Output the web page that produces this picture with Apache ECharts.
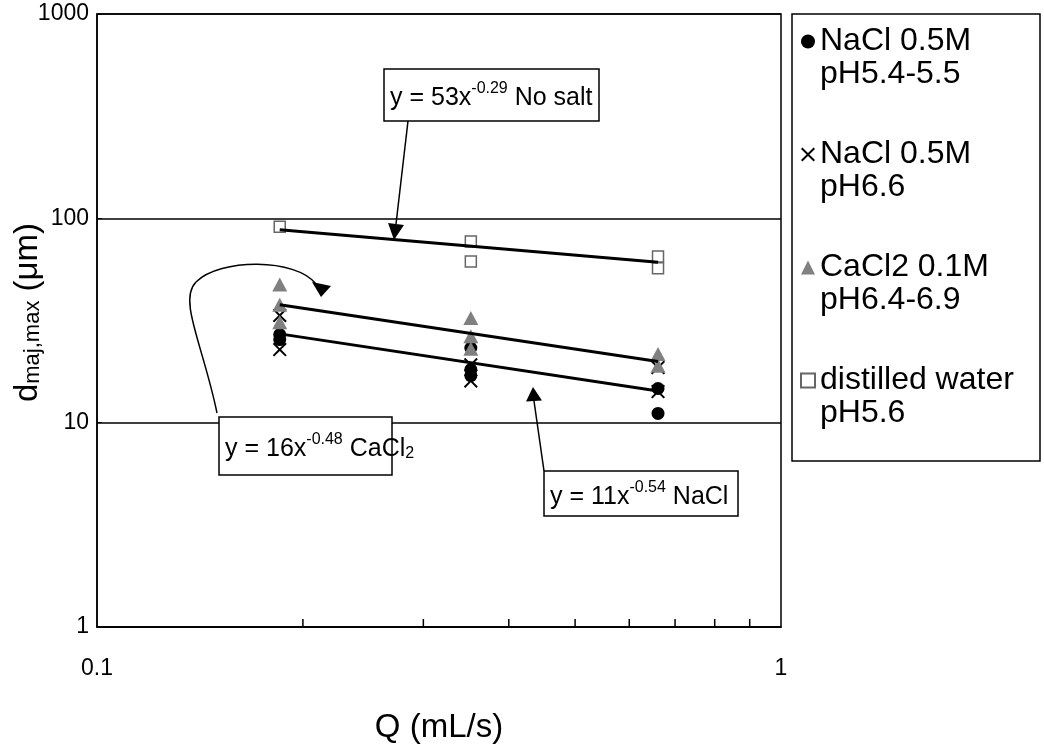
<!DOCTYPE html>
<html>
<head>
<meta charset="utf-8">
<title>dmaj,max vs Q</title>
<script src="https://cdn.jsdelivr.net/npm/echarts@6/dist/echarts.min.js"></script>
</head>
<body style="margin:0px;">
<div id="main" style="width:1044px;height:751px;"></div>
<script type="text/javascript">
// values: [Q (mL/s), dmaj,max (um)]
var naclLowPh = [[0.185,27],[0.185,25.5],[0.352,23.2],[0.352,18.2],[0.352,17],[0.661,14.7],[0.661,11.1]];
var naclPh66 = [[0.185,33.5],[0.185,22.8],[0.352,19.2],[0.352,16],[0.661,18.6],[0.661,14.2]];
var cacl2 = [[0.185,47.5],[0.185,37.8],[0.185,31],[0.352,32.5],[0.352,26.5],[0.352,23],[0.661,21.7],[0.661,19]];
var water = [[0.185,91],[0.352,77],[0.352,61.5],[0.661,65],[0.661,57]];

// trend line end points
var fitNoSalt = [[0.185,88],[0.661,61]];
var fitCaCl2 = [[0.185,37.8],[0.661,19.9]];
var fitNaCl = [[0.185,27.2],[0.661,14.3]];

var seriesNames = ['NaCl 0.5M\npH5.4-5.5', 'NaCl 0.5M\npH6.6', 'CaCl2 0.1M\npH6.4-6.9', 'distilled water\npH5.6'];
var xMinorTicks = [0.2,0.3,0.4,0.5,0.6,0.7,0.8,0.9];

var FONT = '"Liberation Sans", Arial, sans-serif';
var crossPath = 'path://M0,1L1,0L5,4L9,0L10,1L6,5L10,9L9,10L5,6L1,10L0,9L4,5Z';

var myChart = echarts.init(document.getElementById('main'));

function fitLine(data) {
    return {
        type: 'line', data: data, symbol: 'none', silent: true, z: 5,
        lineStyle: {color: '#000', width: 3}
    };
}

var txt = {fontFamily: FONT, fontSize: 25, lineHeight: 30, verticalAlign: 'bottom', color: '#000'};
var sup = {fontFamily: FONT, fontSize: 16, lineHeight: 16, verticalAlign: 'top', color: '#000'};
var sub = {fontFamily: FONT, fontSize: 16, lineHeight: 16, verticalAlign: 'bottom', color: '#000'};

function noteBox(x, y, w, h, text) {
    return [
        {type: 'rect', shape: {x: x, y: y, width: w, height: h}, z: 100,
         style: {fill: '#fff', stroke: '#000', lineWidth: 1.5}},
        {type: 'text', x: x + 6, y: y + h / 2 + 1, z: 101,
         style: {text: text, rich: {t: txt, sup: sup, sub: sub}, verticalAlign: 'middle'}}
    ];
}

function arrow(x1, y1, bx, by, tx, ty, half) {
    var dx = tx - bx, dy = ty - by, len = Math.sqrt(dx * dx + dy * dy);
    var px = -dy / len * half, py = dx / len * half;
    return [
        {type: 'line', shape: {x1: x1, y1: y1, x2: bx, y2: by}, z: 99,
         style: {stroke: '#000', lineWidth: 1.5}},
        {type: 'polygon', shape: {points: [[tx, ty], [bx + px, by + py], [bx - px, by - py]]}, z: 99,
         style: {fill: '#000'}}
    ];
}

var graphics = [].concat(
    [{type: 'rect', shape: {x: 792, y: 14, width: 248, height: 447},
      style: {fill: 'none', stroke: '#000', lineWidth: 1.5}}],
    arrow(408, 121, 396, 224, 394, 240, 8),
    arrow(544, 471, 534, 401, 533, 387, 8),
    [{type: 'bezierCurve', z: 99,
      shape: {x1: 217, y1: 413, cpx1: 203, cpy1: 345, cpx2: 178, cpy2: 300, x2: 196, y2: 282},
      style: {fill: 'none', stroke: '#000', lineWidth: 1.5}},
     {type: 'bezierCurve', z: 99,
      shape: {x1: 196, y1: 282, cpx1: 220, cpy1: 258, cpx2: 296, cpy2: 258, x2: 316, y2: 284},
      style: {fill: 'none', stroke: '#000', lineWidth: 1.5}},
     {type: 'polygon', z: 99, shape: {points: [[321, 297], [312, 282], [331, 286]]}, style: {fill: '#000'}}],
    noteBox(384, 69, 215, 52, '{t|y = 53x}{sup|-0.29}{t| No salt}'),
    noteBox(219, 417, 173, 58, '{t|y = 16x}{sup|-0.48}{t| CaCl}{sub|2}'),
    noteBox(544, 471, 194, 45, '{t|y = 11x}{sup|-0.54}{t| NaCl}')
);

myChart.setOption({
    animation: false,
    backgroundColor: '#fff',
    textStyle: {fontFamily: FONT},
    grid: {left: 97, top: 14, width: 684, height: 613, outerBoundsMode: 'none', containLabel: false,
           show: true, borderColor: '#000', borderWidth: 1.5, backgroundColor: '#fff'},
    legend: {
        orient: 'vertical', left: 800, top: -8, padding: 0,
        itemWidth: 14, itemHeight: 14, itemGap: 14,
        data: seriesNames,
        formatter: function (name) { return '\n' + name; },
        textStyle: {fontFamily: FONT, fontSize: 32, lineHeight: 33, color: '#000'}
    },
    xAxis: {
        type: 'log', logBase: 10, min: 0.1, max: 1,
        name: 'Q (mL/s)', nameLocation: 'middle', nameGap: 84, nameMoveOverlap: false,
        nameTextStyle: {fontFamily: FONT, fontSize: 33, color: '#000'},
        axisLine: {lineStyle: {color: '#000', width: 1.5}},
        axisTick: {show: false},
        axisLabel: {fontFamily: FONT, fontSize: 23, color: '#000', margin: 30},
        splitLine: {show: false}
    },
    yAxis: {
        type: 'log', logBase: 10, min: 1, max: 1000,
        name: '{d|d}{s|maj,max}{d| (μm)}', nameLocation: 'middle', nameGap: 53, nameMoveOverlap: false,
        nameTextStyle: {
            padding: [0, 0, 0, 16],
            rich: {
                d: {fontFamily: FONT, fontSize: 33, lineHeight: 38, verticalAlign: 'bottom', color: '#000'},
                s: {fontFamily: FONT, fontSize: 22, lineHeight: 19, verticalAlign: 'bottom', color: '#000'}
            }
        },
        axisLine: {lineStyle: {color: '#000', width: 1.5}},
        axisTick: {inside: true, length: 5, lineStyle: {color: '#000'}},
        axisLabel: {fontFamily: FONT, fontSize: 23, color: '#000', margin: 8,
                    formatter: function (v) { return String(v); }},
        splitLine: {show: true, lineStyle: {color: '#000', width: 1.5}}
    },
    graphic: graphics,
    series: [
        {name: seriesNames[0], type: 'scatter', data: naclLowPh, symbol: 'circle', symbolSize: 13,
         itemStyle: {color: '#000', opacity: 1}},
        {name: seriesNames[1], type: 'scatter', data: naclPh66, symbol: crossPath, symbolSize: 14,
         itemStyle: {color: '#000', opacity: 1}},
        {name: seriesNames[2], type: 'scatter', data: cacl2, symbol: 'triangle', symbolSize: [15, 14],
         itemStyle: {color: '#808080', opacity: 1}},
        {name: seriesNames[3], type: 'scatter', data: water, symbol: 'rect', symbolSize: 11,
         itemStyle: {color: '#fff', borderColor: '#666', borderWidth: 1.5, opacity: 1}},
        fitLine(fitNoSalt),
        fitLine(fitCaCl2),
        fitLine(fitNaCl),
        {
            type: 'custom', silent: true, z: 3,
            data: xMinorTicks.map(function (v) { return [v]; }),
            encode: {x: 0},
            renderItem: function (params, api) {
                var p = api.coord([api.value(0), 1]);
                return {type: 'line', shape: {x1: p[0], y1: p[1], x2: p[0], y2: p[1] - 8},
                        style: {stroke: '#000', lineWidth: 1.5}};
            }
        }
    ]
});
</script>
</body>
</html>
